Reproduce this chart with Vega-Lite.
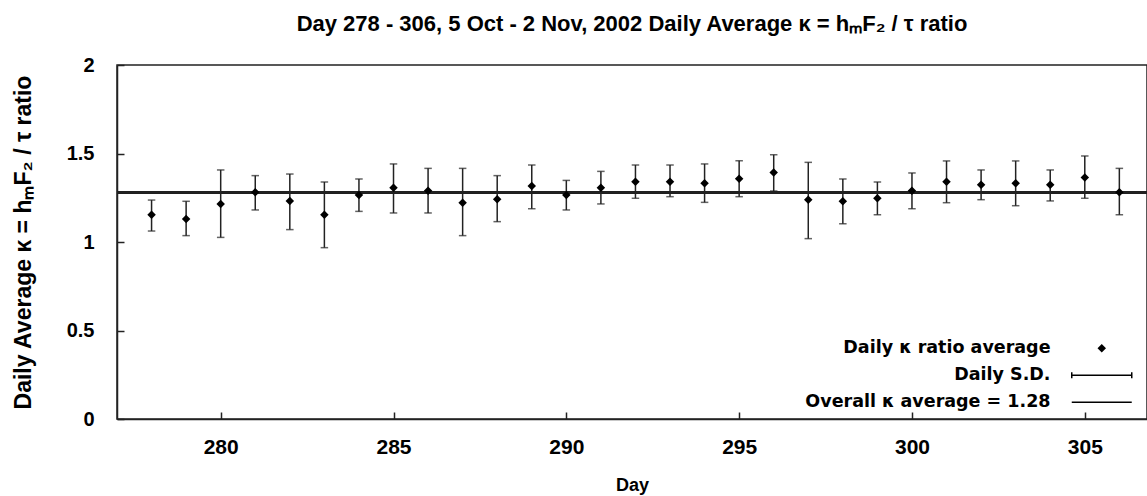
{
  "$schema": "https://vega.github.io/schema/vega-lite/v6.json",
  "autosize": {"type": "none"},
  "padding": {"left": 117, "top": 65, "right": 0, "bottom": 77},
  "width": 1030,
  "height": 354,
  "background": "white",
  "title": {
    "text": "Day 278 - 306, 5 Oct - 2 Nov, 2002 Daily Average κ = hₘF₂ / τ ratio",
    "font": "Liberation Sans",
    "fontSize": 22,
    "fontWeight": "bold",
    "color": "black",
    "anchor": "middle",
    "offset": 19
  },
  "config": {
    "view": {"stroke": "#222", "strokeWidth": 1.5},
    "axis": {
      "domainColor": "#222",
      "domainWidth": 1.5,
      "tickColor": "#222",
      "tickWidth": 1.5,
      "tickSize": -7,
      "grid": false,
      "labelFont": "Liberation Sans",
      "labelFontSize": 20,
      "labelFontWeight": "bold",
      "labelColor": "black",
      "titleFont": "Liberation Sans",
      "titleFontSize": 20,
      "titleFontWeight": "bold",
      "titleColor": "black"
    }
  },
  "data": {
    "values": [
      {"day": 278, "avg": 1.154, "hi": 1.237, "lo": 1.062},
      {"day": 279, "avg": 1.130, "hi": 1.230, "lo": 1.036},
      {"day": 280, "avg": 1.215, "hi": 1.407, "lo": 1.026},
      {"day": 281, "avg": 1.281, "hi": 1.375, "lo": 1.181},
      {"day": 282, "avg": 1.232, "hi": 1.384, "lo": 1.070},
      {"day": 283, "avg": 1.154, "hi": 1.339, "lo": 0.968},
      {"day": 284, "avg": 1.266, "hi": 1.356, "lo": 1.173},
      {"day": 285, "avg": 1.307, "hi": 1.441, "lo": 1.164},
      {"day": 286, "avg": 1.290, "hi": 1.416, "lo": 1.164},
      {"day": 287, "avg": 1.222, "hi": 1.416, "lo": 1.036},
      {"day": 288, "avg": 1.241, "hi": 1.375, "lo": 1.115},
      {"day": 289, "avg": 1.316, "hi": 1.435, "lo": 1.188},
      {"day": 290, "avg": 1.266, "hi": 1.348, "lo": 1.181},
      {"day": 291, "avg": 1.307, "hi": 1.399, "lo": 1.215},
      {"day": 292, "avg": 1.341, "hi": 1.435, "lo": 1.247},
      {"day": 293, "avg": 1.341, "hi": 1.435, "lo": 1.256},
      {"day": 294, "avg": 1.332, "hi": 1.441, "lo": 1.224},
      {"day": 295, "avg": 1.358, "hi": 1.459, "lo": 1.256},
      {"day": 296, "avg": 1.392, "hi": 1.493, "lo": 1.288},
      {"day": 297, "avg": 1.239, "hi": 1.450, "lo": 1.019},
      {"day": 298, "avg": 1.230, "hi": 1.356, "lo": 1.103},
      {"day": 299, "avg": 1.247, "hi": 1.339, "lo": 1.154},
      {"day": 300, "avg": 1.290, "hi": 1.390, "lo": 1.188},
      {"day": 301, "avg": 1.341, "hi": 1.458, "lo": 1.222},
      {"day": 302, "avg": 1.324, "hi": 1.407, "lo": 1.239},
      {"day": 303, "avg": 1.332, "hi": 1.458, "lo": 1.205},
      {"day": 304, "avg": 1.324, "hi": 1.407, "lo": 1.232},
      {"day": 305, "avg": 1.365, "hi": 1.486, "lo": 1.247},
      {"day": 306, "avg": 1.281, "hi": 1.416, "lo": 1.154}
    ]
  },
  "encoding": {
    "x": {
      "field": "day",
      "type": "quantitative",
      "scale": {"domain": [277, 306.8], "nice": false, "zero": false},
      "axis": {"values": [280, 285, 290, 295, 300, 305], "title": "Day", "labelFontSize": 21, "labelPadding": 24, "titleFontSize": 18, "titlePadding": 19}
    }
  },
  "layer": [
    {
      "mark": {"type": "rule", "color": "#222", "strokeWidth": 1.5},
      "encoding": {
        "x": null,
        "y": {"datum": 1.28, "type": "quantitative"}
      }
    },
    {
      "mark": {"type": "rule", "color": "#222", "strokeWidth": 1.5},
      "encoding": {
        "y": {
          "field": "lo",
          "type": "quantitative",
          "scale": {"domain": [0, 2], "nice": false},
          "axis": {
            "values": [0, 0.5, 1, 1.5, 2],
            "labelExpr": "'' + datum.value",
            "title": "Daily Average κ = hₘF₂ / τ ratio",
            "titleFontSize": 23,
            "labelPadding": 30,
            "titlePadding": 31
          }
        },
        "y2": {"field": "hi"}
      }
    },
    {
      "mark": {"type": "tick", "orient": "horizontal", "color": "#222", "size": 7.5, "thickness": 1.5},
      "encoding": {"y": {"field": "lo", "type": "quantitative"}}
    },
    {
      "mark": {"type": "tick", "orient": "horizontal", "color": "#222", "size": 7.5, "thickness": 1.5},
      "encoding": {"y": {"field": "hi", "type": "quantitative"}}
    },
    {
      "mark": {"type": "point", "filled": true, "color": "black", "opacity": 1, "size": 100},
      "encoding": {
        "y": {"field": "avg", "type": "quantitative"},
        "shape": {
          "datum": "Daily κ ratio average",
          "scale": {
            "domain": ["Daily κ ratio average", "Daily S.D.", "Overall κ average = 1.28"],
            "range": [
              "M0,-0.85L0.85,0L0,0.85L-0.85,0Z",
              "M-6,-0.15L6,-0.15L6,0.15L-6,0.15Z M-6.15,-0.6L-5.85,-0.6L-5.85,0.6L-6.15,0.6Z M5.85,-0.6L6.15,-0.6L6.15,0.6L5.85,0.6Z",
              "M-6,-0.15L6,-0.15L6,0.15L-6,0.15Z"
            ]
          },
          "legend": {
            "title": null,
            "orient": "none",
            "legendX": 976,
            "legendY": 274.5,
            "labelAlign": "right",
            "labelOffset": -60,
            "labelFont": "DejaVu Sans",
            "labelFontSize": 17.5,
            "labelFontWeight": "bold",
            "labelColor": "black",
            "labelLimit": 0,
            "rowPadding": 8,
            "symbolSize": 100,
            "symbolFillColor": "black",
            "symbolOpacity": 1,
            "encode": {
              "symbols": {
                "update": {
                  "fill": {"value": "black"},
                  "opacity": {"value": 1}
                }
              }
            }
          }
        }
      }
    }
  ]
}
